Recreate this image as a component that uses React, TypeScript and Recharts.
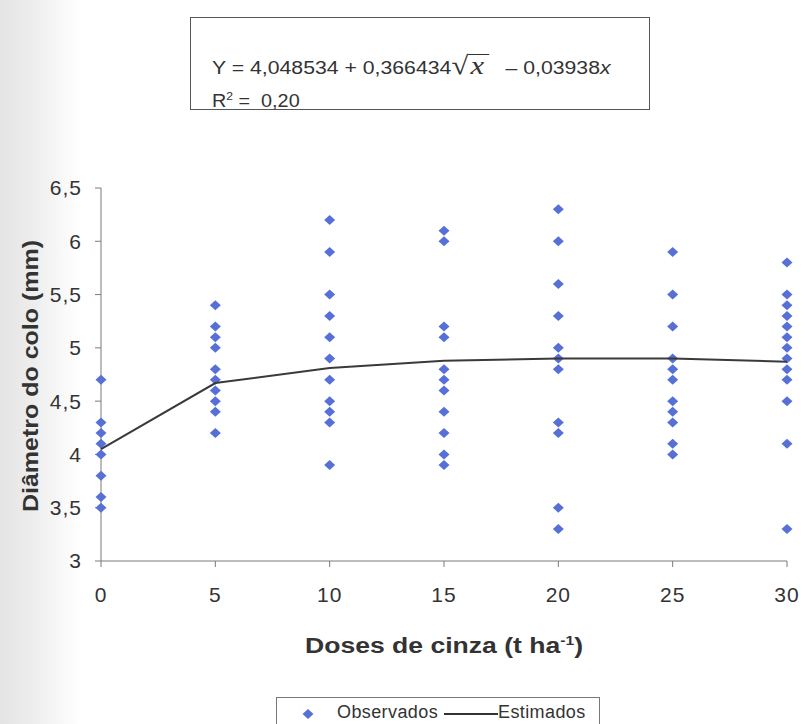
import React from "react";
import { ScatterChart, Scatter, XAxis, YAxis } from "recharts";

// doses (t/ha) and observed collar diameters (mm) per dose
const doses = [0, 5, 10, 15, 20, 25, 30];
const obsDose0 = [4.7, 4.3, 4.2, 4.1, 4.0, 3.8, 3.6, 3.5];
const obsDose5 = [5.4, 5.2, 5.1, 5.0, 4.8, 4.7, 4.6, 4.5, 4.4, 4.2];
const obsDose10 = [6.2, 5.9, 5.5, 5.3, 5.1, 4.9, 4.7, 4.5, 4.4, 4.3, 3.9];
const obsDose15 = [6.1, 6.0, 5.2, 5.1, 4.8, 4.7, 4.6, 4.4, 4.2, 4.0, 3.9];
const obsDose20 = [6.3, 6.0, 5.6, 5.3, 5.0, 4.9, 4.8, 4.3, 4.2, 3.5, 3.3];
const obsDose25 = [5.9, 5.5, 5.2, 4.9, 4.8, 4.7, 4.5, 4.4, 4.3, 4.1, 4.0];
const obsDose30 = [5.8, 5.5, 5.4, 5.3, 5.2, 5.1, 5.0, 4.9, 4.8, 4.7, 4.5, 4.1, 3.3];

// fitted curve values at each dose
const estimated = [4.05, 4.67, 4.81, 4.88, 4.9, 4.9, 4.87];

const xTicks = [0, 5, 10, 15, 20, 25, 30];
const yTicks = [3, 3.5, 4, 4.5, 5, 5.5, 6, 6.5];

const observedColumns = [obsDose0, obsDose5, obsDose10, obsDose15, obsDose20, obsDose25, obsDose30];
const observedData = observedColumns.flatMap((col, i) =>
  col.map((v) => ({ x: doses[i], y: v }))
);
const estimatedData = doses.map((d, i) => ({ x: d, y: estimated[i] }));

const FONT = "'Liberation Sans', Arial, sans-serif";
const BLUE = "#5670d8";
const TEXT = "#333";

const Diamond = (props: any) => {
  const { cx, cy } = props;
  if (cx == null || cy == null) return <g />;
  return (
    <path
      d={`M${cx},${cy - 5}L${cx + 5.5},${cy}L${cx},${cy + 5}L${cx - 5.5},${cy}Z`}
      fill={BLUE}
    />
  );
};

const NoDot = () => <g />;

const comma = (v: number) => String(v).replace(".", ",");

export default function App() {
  return (
    <div
      style={{
        position: "fixed",
        left: 0,
        top: 0,
        width: 805,
        height: 724,
        overflow: "hidden",
        // scanned page: slight shadow along the left edge
        background: "linear-gradient(to right, #e4e4e4 0px, #eeeeee 35px, #ffffff 80px)",
        fontFamily: FONT,
      }}
    >
      <ScatterChart
        width={805}
        height={724}
        margin={{ top: 188, right: 18, bottom: 133, left: 41 }}
      >
        <XAxis
          type="number"
          dataKey="x"
          domain={[0, 30]}
          ticks={xTicks}
          stroke="#7a7a7a"
          height={30}
          tickSize={6}
          tickMargin={20}
          tick={{ fill: TEXT, fontSize: 21, fontFamily: FONT, letterSpacing: 1 }}
        />
        <YAxis
          type="number"
          dataKey="y"
          domain={[3, 6.5]}
          ticks={yTicks}
          stroke="#7a7a7a"
          width={60}
          tickSize={6}
          tickMargin={13}
          tickFormatter={comma}
          tick={{ fill: TEXT, fontSize: 21, fontFamily: FONT, letterSpacing: 1 }}
        />
        <Scatter
          name="Observados"
          data={observedData}
          shape={Diamond}
          isAnimationActive={false}
        />
        <Scatter
          name="Estimados"
          data={estimatedData}
          line={{ stroke: "#3a3a3a", strokeWidth: 2 }}
          lineType="joint"
          shape={NoDot}
          isAnimationActive={false}
        />
      </ScatterChart>

      <svg
        width={805}
        height={724}
        style={{ position: "absolute", left: 0, top: 0, pointerEvents: "none" }}
      >
        <text
          x={444}
          y={653}
          textAnchor="middle"
          fontFamily={FONT}
          fontWeight="bold"
          fontSize={22}
          fill={TEXT}
          textLength={278}
          lengthAdjust="spacingAndGlyphs"
        >
          Doses de cinza (t ha
          <tspan dy={-8} fontSize={13}>-1</tspan>
          <tspan dy={8}>)</tspan>
        </text>
        <text
          transform="translate(38,376) rotate(-90)"
          textAnchor="middle"
          fontFamily={FONT}
          fontWeight="bold"
          fontSize={22}
          fill={TEXT}
          textLength={272}
          lengthAdjust="spacingAndGlyphs"
        >
          Diâmetro do colo (mm)
        </text>
      </svg>

      {/* regression equation box */}
      <div
        style={{
          position: "absolute",
          left: 190,
          top: 17,
          width: 460,
          height: 93,
          boxSizing: "border-box",
          border: "1.5px solid #555",
          background: "#fff",
          color: TEXT,
          fontSize: 18,
        }}
      >
        <div
          style={{
            position: "absolute",
            left: 21,
            top: 36,
            whiteSpace: "nowrap",
            lineHeight: "24px",
            transform: "scaleX(1.18)",
            transformOrigin: "left center",
          }}
        >
          Y = 4,048534 + 0,366434
          <span style={{ fontFamily: "'Liberation Serif', serif", fontSize: 26 }}>√</span>
          <span
            style={{
              fontFamily: "'Liberation Serif', serif",
              fontStyle: "italic",
              fontSize: 26,
              borderTop: "1.5px solid #333",
              display: "inline-block",
              lineHeight: "22px",
              padding: "0 4px 0 2px",
            }}
          >
            x
          </span>
          <span style={{ marginLeft: 14 }}>– 0,03938</span>
          <i>x</i>
        </div>
        <div
          style={{
            position: "absolute",
            left: 21,
            top: 66,
            lineHeight: "24px",
            whiteSpace: "nowrap",
            transform: "scaleX(1.1)",
            transformOrigin: "left center",
          }}
        >
          R<sup style={{ fontSize: 11 }}>2</sup> = &nbsp;0,20
        </div>
      </div>

      {/* legend */}
      <div
        style={{
          position: "absolute",
          left: 276,
          top: 697,
          width: 324,
          height: 40,
          boxSizing: "border-box",
          border: "1px solid #777",
          background: "#fff",
          color: TEXT,
          fontSize: 18,
        }}
      >
        <svg
          width={14}
          height={14}
          style={{ position: "absolute", left: 24, top: 9 }}
        >
          <path d="M7,2L12.5,7L7,12L1.5,7Z" fill={BLUE} />
        </svg>
        <span style={{ position: "absolute", left: 60, top: 4, letterSpacing: 0.4 }}>
          Observados
        </span>
        <div
          style={{
            position: "absolute",
            left: 167,
            top: 15,
            width: 54,
            height: 2,
            background: "#333",
          }}
        />
        <span style={{ position: "absolute", left: 221, top: 4, letterSpacing: 0.4 }}>
          Estimados
        </span>
      </div>
    </div>
  );
}
